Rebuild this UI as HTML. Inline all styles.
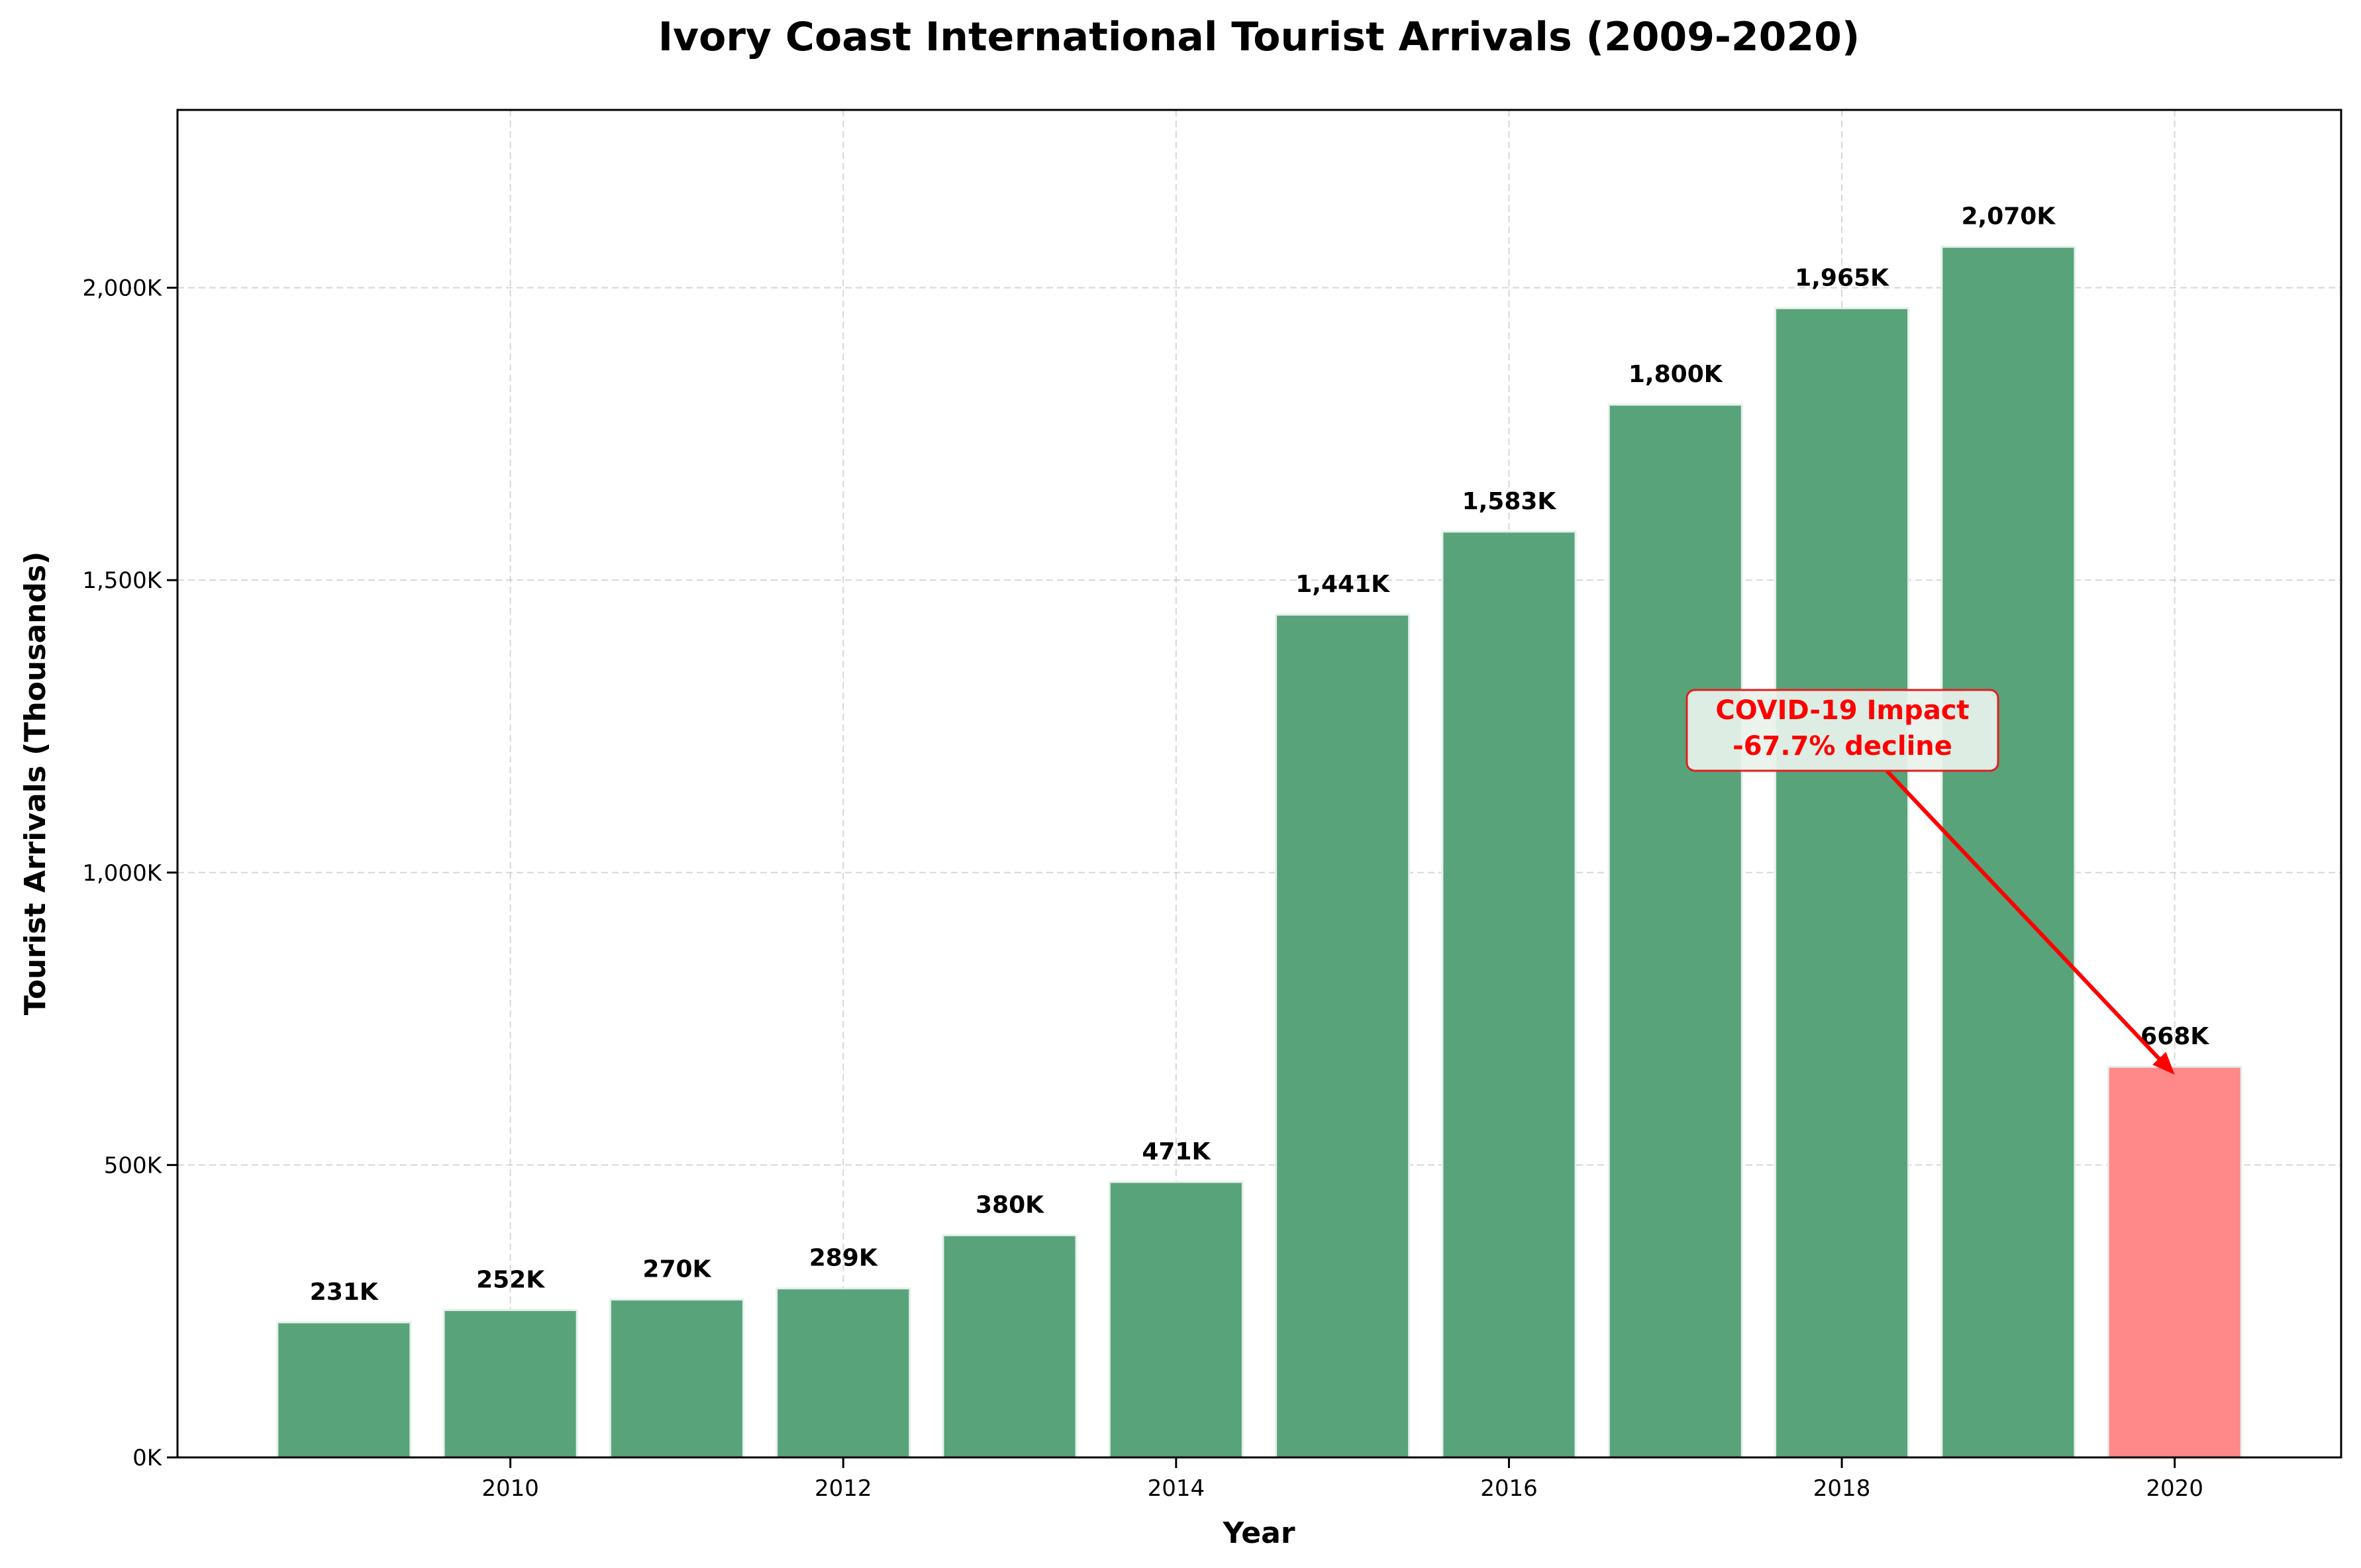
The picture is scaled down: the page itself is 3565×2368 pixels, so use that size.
<!DOCTYPE html>
<html><head><meta charset="utf-8"><style>html,body{margin:0;padding:0;background:#fff}svg{display:block}text{font-family:"DejaVu Sans","Liberation Sans",sans-serif}</style></head>
<body>
<svg id="chart" width="3565" height="2368" viewBox="0 0 3565 2368" xmlns="http://www.w3.org/2000/svg">
<rect width="3565" height="2368" fill="#fff"/>
<text x="1901" y="76" text-anchor="middle" font-size="60" font-weight="bold">Ivory Coast International Tourist Arrivals (2009-2020)</text>
<g id="grid"></g>
<g id="bars"></g>
<g id="labels"></g>
<rect x="268" y="166" width="3267" height="2035" fill="none" stroke="#000" stroke-width="3"/>
<g id="xticks"></g>
<g id="yticks"></g>
<text x="1901" y="2330" text-anchor="middle" font-size="44" font-weight="bold">Year</text>
<text transform="translate(68,1183) rotate(-90)" text-anchor="middle" font-size="44" font-weight="bold">Tourist Arrivals (Thousands)</text>
<g id="annot"></g>
</svg>
<script>
const years=[2009,2010,2011,2012,2013,2014,2015,2016,2017,2018,2019,2020];
const arrivals=[231,252,270,289,380,471,1441,1583,1800,1965,2070,668];
const valueLabels=["231K","252K","270K","289K","380K","471K","1,441K","1,583K","1,800K","1,965K","2,070K","668K"];
const xTicks=[2010,2012,2014,2016,2018,2020];
const yTicks=[0,500,1000,1500,2000];
const yTickLabels=["0K","500K","1,000K","1,500K","2,000K"];
const NS="http://www.w3.org/2000/svg";
const L=268,R=3535,T=166,B=2201,X0=2008,X1=2021,YMAX=2304;
const xs=v=>L+(v-X0)/(X1-X0)*(R-L);
const ys=v=>B-v/YMAX*(B-T);
function mk(tag,attrs,parent){const e=document.createElementNS(NS,tag);for(const k in attrs)e.setAttribute(k,attrs[k]);parent.appendChild(e);return e;}
const grid=document.getElementById('grid'),bars=document.getElementById('bars'),labels=document.getElementById('labels'),xt=document.getElementById('xticks'),yt=document.getElementById('yticks'),an=document.getElementById('annot');
xTicks.forEach(t=>{const x=xs(t);
 const g=mk('line',{x1:x,x2:x,y1:T,y2:B,stroke:'#b0b0b0','stroke-opacity':0.5,'stroke-width':2,'stroke-dasharray':'10,6'},grid);
 
 const tk=mk('line',{x1:x,x2:x,y1:B,y2:B+16,stroke:'#000','stroke-width':3},xt);
 
 const tx=mk('text',{x:x,y:B+58,'text-anchor':'middle','font-size':34},xt);tx.textContent=t;
 });
yTicks.forEach((t,i)=>{const y=ys(t);
 if(t>0){const g=mk('line',{x1:L,x2:R,y1:y,y2:y,stroke:'#b0b0b0','stroke-opacity':0.5,'stroke-width':2,'stroke-dasharray':'10,6'},grid);
 }
 const tk=mk('line',{x1:L-16,x2:L,y1:y,y2:y,stroke:'#000','stroke-width':3},yt);
 
 const tx=mk('text',{x:L-24,y:y+12,'text-anchor':'end','font-size':34},yt);tx.textContent=yTickLabels[i];
 });
const bw=0.8*(xs(1)-xs(0));
years.forEach((yr,i)=>{const x=xs(yr)-bw/2,y=ys(arrivals[i]);
 const r=mk('rect',{x:x,y:y,width:bw,height:B-y,fill:yr===2020?'#ff8989':'#58a37a',stroke:'#e6f0ea','stroke-width':3},bars);
 
 const t=mk('text',{x:xs(yr),y:y-34,'text-anchor':'middle','font-size':36,'font-weight':'bold'},labels);t.textContent=valueLabels[i];
 });
// annotation
const ax1=2849,ay1=1164,ax2=xs(2020),ay2=ys(668)+12;
const ln=mk('line',{x1:ax1,y1:ay1,x2:ax2-14,y2:ay2-14,stroke:'#ff0000','stroke-width':6},an);

const ang=Math.atan2(ay2-ay1,ax2-ax1),hl=34,hw=14;
const p=[[ax2,ay2],[ax2-hl*Math.cos(ang)+hw*Math.sin(ang),ay2-hl*Math.sin(ang)-hw*Math.cos(ang)],[ax2-hl*Math.cos(ang)-hw*Math.sin(ang),ay2-hl*Math.sin(ang)+hw*Math.cos(ang)]];
const hd=mk('polygon',{points:p.map(q=>q.join(',')).join(' '),fill:'#ff0000'},an);

const bx=mk('rect',{x:2547,y:1042,width:470,height:122,rx:12,fill:'#e8f3ec','fill-opacity':0.92,stroke:'#e02020','stroke-width':3},an);

const t1=mk('text',{x:2782,y:1086,'text-anchor':'middle','font-size':40,'font-weight':'bold',fill:'#ff0000'},an);t1.textContent='COVID-19 Impact';

const t2=mk('text',{x:2782,y:1140,'text-anchor':'middle','font-size':40,'font-weight':'bold',fill:'#ff0000'},an);t2.textContent='-67.7% decline';

</script>
</body></html>
